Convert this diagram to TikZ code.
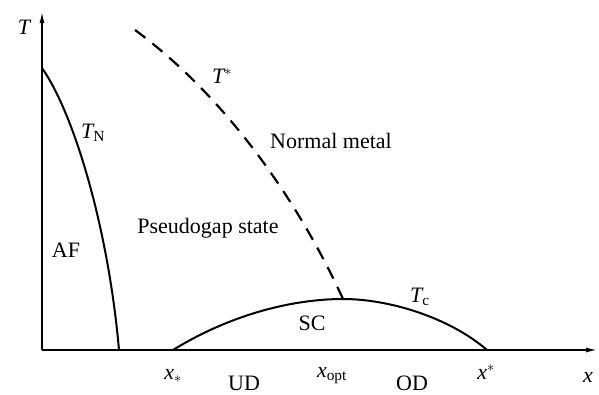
\documentclass[tikz,border=0pt]{standalone}
\usepackage{fontspec}
\setmainfont{Liberation Serif}
\usetikzlibrary{arrows.meta}
\tikzset{
axis/.style={line width=1.4pt,-{Latex[length=11pt,width=5pt]}},
phaseline/.style={line width=2pt},
crossover/.style={line width=2.2pt,dash pattern=on 13pt off 9pt},
lab/.style={font=\fontsize{22}{25}\selectfont,inner sep=0pt}
}
\begin{document}
\begin{tikzpicture}[x=1pt,y=-1pt]
\useasboundingbox (0,0) rectangle (599,394);
\coordinate (o) at (42,350);
\coordinate (tend) at (42,12);
\coordinate (xend) at (597,350);
\draw[axis] (o) -- (tend);
\draw[axis] (o) -- (xend);
% phase boundaries
\coordinate (neel) at (42,68);
\coordinate (neelend) at (119,350);
\coordinate (xs) at (173,350);
\coordinate (opt) at (343,299);
\coordinate (xss) at (487,350);
\coordinate (tstart) at (135,30);
\draw[phaseline] (neel) .. controls (73,112) and (108,225) .. (neelend);
\draw[phaseline] (xs) .. controls (228,316) and (290,299) .. (opt)
  .. controls (390,299) and (450,318) .. (xss);
\draw[crossover] (tstart) .. controls (230,100) and (301,207) .. (opt);
% labels
\node[lab] (tlab) at (24,27) {$\mathit{T}$};
\node[lab] (tn) at (93,133) {$\mathit{T}_{\mathrm{N}}$};
\node[lab] (af) at (66,250) {AF};
\node[lab] (pg) at (208,228) {Pseudogap state};
\node[lab] (tstar) at (222,76) {$\mathit{T}^{*}$};
\node[lab] (nm) at (331,141) {Normal metal};
\node[lab] (tc) at (420,297) {$\mathit{T}_{\mathrm{c}}$};
\node[lab] (sc) at (312,323) {SC};
\node[lab] (xlow) at (173,376) {$\mathit{x}_{*}$};
\node[lab] (ud) at (244,383) {UD};
\node[lab] (xopt) at (332,376) {$\mathit{x}_{\mathrm{opt}}$};
\node[lab] (od) at (412,383) {OD};
\node[lab] (xhigh) at (486,372) {$\mathit{x}^{*}$};
\node[lab] (xlab) at (588,377) {$\mathit{x}$};
\end{tikzpicture}
\end{document}
